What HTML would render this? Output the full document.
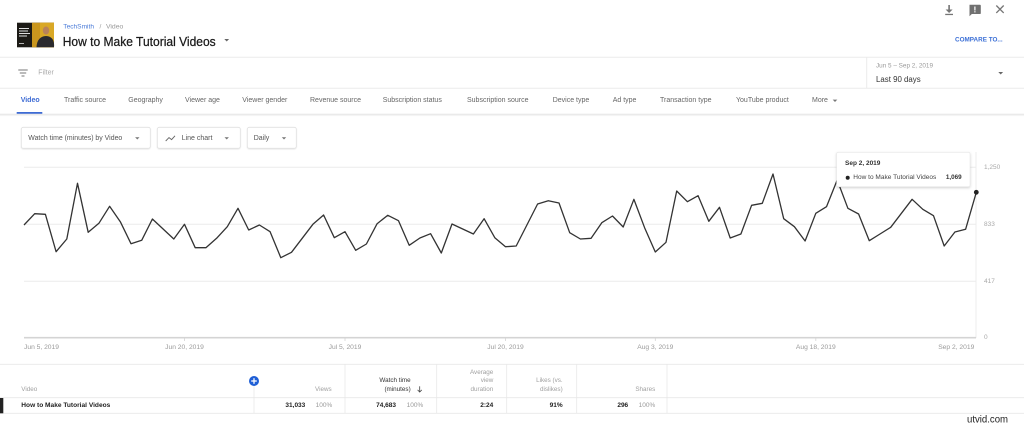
<!DOCTYPE html>
<html><head><meta charset="utf-8"><style>
html,body{margin:0;padding:0;background:#fff;}
svg{display:block;font-family:"Liberation Sans",Arial,sans-serif;}
</style></head><body>
<svg width="1024" height="428" viewBox="0 0 1024 428" xmlns="http://www.w3.org/2000/svg">
<defs>
<filter id="sh" x="-10%" y="-20%" width="120%" height="150%"><feDropShadow dx="0" dy="1" stdDeviation="1.2" flood-color="#000" flood-opacity="0.18"/></filter>
<filter id="sh2" x="-10%" y="-20%" width="120%" height="150%"><feDropShadow dx="0" dy="0.6" stdDeviation="0.6" flood-color="#000" flood-opacity="0.12"/></filter>
</defs>
<rect width="1024" height="428" fill="#fff"/>

<!-- top right icons -->
<g fill="#757575" stroke="none">
<rect x="948.3" y="5" width="1.6" height="5.5"/>
<polygon points="945.6,9.5 952.6,9.5 949.1,13"/>
<rect x="945.2" y="13.8" width="7.8" height="1.3"/>
<path d="M969.5,4.8 h10.5 a0.8,0.8 0 0 1 0.8,0.8 v7.6 a0.8,0.8 0 0 1 -0.8,0.8 h-8.2 l-2.3,2.3 z" fill="#707070"/>
<rect x="974.3" y="6.5" width="1.2" height="4" fill="#fff"/>
<rect x="974.3" y="11.2" width="1.2" height="1.2" fill="#fff"/>
</g>
<g stroke="#757575" stroke-width="1.3"><line x1="996.3" y1="5.5" x2="1003.7" y2="12.9"/><line x1="1003.7" y1="5.5" x2="996.3" y2="12.9"/></g>

<!-- thumbnail -->
<rect x="17" y="22.7" width="37" height="24.6" fill="#1c1a16"/>
<rect x="32" y="22.7" width="22" height="24.6" fill="#c9961e"/>
<rect x="40" y="22.7" width="14" height="24.6" fill="#d9a826"/>
<ellipse cx="46" cy="30.5" rx="3.2" ry="4" fill="#b9825a"/>
<path d="M36.5,47.3 Q37,36.5 46,36 Q55,36.5 54,47.3 z" fill="#2a2a2e"/>
<g fill="#ddd"><rect x="19" y="28" width="10" height="1"/><rect x="19" y="30.5" width="9" height="1"/><rect x="19" y="33" width="11" height="1"/><rect x="19" y="35.5" width="8" height="1"/><rect x="19" y="43" width="5" height="0.8"/></g>

<!-- breadcrumb + title -->
<text x="63.3" y="27" font-size="6.5" fill="#4a7bd8" dominant-baseline="central" textLength="30.7" lengthAdjust="spacingAndGlyphs">TechSmith</text>
<text x="99.5" y="27" font-size="6.5" fill="#999" dominant-baseline="central">/</text>
<text x="106" y="27" font-size="6.5" fill="#999" dominant-baseline="central" textLength="17.3" lengthAdjust="spacingAndGlyphs">Video</text>
<text x="62.7" y="46" font-size="13" fill="#1a1a1a" textLength="153" lengthAdjust="spacingAndGlyphs" stroke="#1a1a1a" stroke-width="0.25">How to Make Tutorial Videos</text>
<polygon points="224.3,39 229.1,39 226.7,41.5" fill="#666"/>
<text x="955" y="40" font-size="6.8" font-weight="bold" fill="#3b6fd6" dominant-baseline="central" textLength="47.7" lengthAdjust="spacingAndGlyphs">COMPARE TO...</text>

<!-- filter row -->
<line x1="0" y1="57.3" x2="1024" y2="57.3" stroke="#ebebeb" stroke-width="1"/>
<g stroke="#777" stroke-width="1"><line x1="18.3" y1="70" x2="27.7" y2="70"/><line x1="19.8" y1="73" x2="26.2" y2="73"/><line x1="21.5" y1="76" x2="24.5" y2="76"/></g>
<text x="38.3" y="73" font-size="7" fill="#aaa" dominant-baseline="central">Filter</text>
<line x1="866.7" y1="57.3" x2="866.7" y2="88.3" stroke="#ebebeb" stroke-width="1"/>
<text x="876" y="66.7" font-size="6" fill="#9a9a9a" dominant-baseline="central" textLength="57" lengthAdjust="spacingAndGlyphs">Jun 5 – Sep 2, 2019</text>
<text x="876" y="79.3" font-size="8" fill="#333" dominant-baseline="central" textLength="44.7" lengthAdjust="spacingAndGlyphs">Last 90 days</text>
<polygon points="998.3,72 1003.1,72 1000.7,74.5" fill="#666"/>
<line x1="0" y1="88.3" x2="1024" y2="88.3" stroke="#ebebeb" stroke-width="1"/>

<!-- tabs -->
<g font-size="7" fill="#666" dominant-baseline="central">
<text x="20.7" y="100.7" fill="#3d6bd4" font-weight="bold">Video</text>
<text x="64" y="100.7">Traffic source</text>
<text x="128.3" y="100.7">Geography</text>
<text x="185" y="100.7">Viewer age</text>
<text x="242.3" y="100.7">Viewer gender</text>
<text x="310" y="100.7">Revenue source</text>
<text x="382.7" y="100.7">Subscription status</text>
<text x="467" y="100.7">Subscription source</text>
<text x="552.7" y="100.7">Device type</text>
<text x="612.7" y="100.7">Ad type</text>
<text x="660" y="100.7">Transaction type</text>
<text x="736" y="100.7">YouTube product</text>
<text x="812" y="100.7">More</text>
</g>
<polygon points="832.7,99.6 837.3,99.6 835,102" fill="#777"/>
<rect x="16.7" y="112" width="25.6" height="2" fill="#3d6bd4"/>
<line x1="0" y1="114.3" x2="1024" y2="114.3" stroke="#e2e2e2" stroke-width="1"/>
<line x1="0" y1="115.5" x2="1024" y2="115.5" stroke="#f4f4f4" stroke-width="1.2"/>

<!-- dropdowns -->
<g filter="url(#sh2)">
<rect x="21.3" y="127.3" width="129" height="21" rx="2" fill="#fff" stroke="#e0e0e0" stroke-width="0.8"/>
<rect x="157.3" y="127.3" width="83" height="21" rx="2" fill="#fff" stroke="#e0e0e0" stroke-width="0.8"/>
<rect x="247.3" y="127.3" width="49" height="21" rx="2" fill="#fff" stroke="#e0e0e0" stroke-width="0.8"/>
</g>
<g font-size="7" fill="#555" dominant-baseline="central">
<text x="28.3" y="138.3" textLength="94" lengthAdjust="spacingAndGlyphs">Watch time (minutes) by Video</text>
<text x="181.7" y="138.3">Line chart</text>
<text x="253.7" y="138.3">Daily</text>
</g>
<polyline points="165.7,141 169,137.6 171.6,139.6 175,135.8" fill="none" stroke="#666" stroke-width="0.9"/>
<g fill="#777">
<polygon points="135.1,137.3 139.5,137.3 137.3,139.5"/>
<polygon points="224.5,137.3 228.9,137.3 226.7,139.5"/>
<polygon points="281.8,137.3 286.2,137.3 284,139.5"/>
</g>

<!-- chart grid -->
<g stroke="#ececec" stroke-width="1">
<line x1="24" y1="167.3" x2="976" y2="167.3"/>
<line x1="24" y1="224.3" x2="976" y2="224.3"/>
<line x1="24" y1="281.3" x2="976" y2="281.3"/>
<line x1="976" y1="152" x2="976" y2="338"/>
</g>
<line x1="24" y1="337.7" x2="976" y2="337.7" stroke="#d4d4d4" stroke-width="1.6"/>
<g stroke="#d4d4d4" stroke-width="0.8">
<line x1="184.5" y1="338" x2="184.5" y2="341"/><line x1="345" y1="338" x2="345" y2="341"/><line x1="505.5" y1="338" x2="505.5" y2="341"/><line x1="655.3" y1="338" x2="655.3" y2="341"/><line x1="815.8" y1="338" x2="815.8" y2="341"/>
</g>
<g font-size="6.5" fill="#a8a8a8" dominant-baseline="central">
<text x="984" y="167.7">1,250</text>
<text x="984" y="224.3">833</text>
<text x="984" y="281.3">417</text>
<text x="984" y="337.7">0</text>
</g>
<g font-size="6.7" fill="#9a9a9a" dominant-baseline="central">
<text x="24" y="347.5">Jun 5, 2019</text>
<text x="184.5" y="347.5" text-anchor="middle">Jun 20, 2019</text>
<text x="345" y="347.5" text-anchor="middle">Jul 5, 2019</text>
<text x="505.5" y="347.5" text-anchor="middle">Jul 20, 2019</text>
<text x="655.3" y="347.5" text-anchor="middle">Aug 3, 2019</text>
<text x="815.8" y="347.5" text-anchor="middle">Aug 18, 2019</text>
<text x="974.3" y="347.5" text-anchor="end">Sep 2, 2019</text>
</g>

<!-- series -->
<polyline fill="none" stroke="#333" stroke-width="1.3" stroke-linejoin="round" points="
24,225 34.7,213.7 45.4,214.3 56.1,251.7 66.8,239 77.5,183.3 88.2,232.3 98.9,223.3 109.6,206.3 120.3,221.7
131,243.7 141.7,240.3 152.4,219 163.1,229 173.8,239 184.5,224.3 195.2,247.7 205.9,247.7 216.6,238.3 227.3,226.7
238,208.3 248.7,230 259.4,225 270.1,231.7 280.8,257.7 291.5,252.3 302.2,238.3 312.9,224.3 323.6,215 334.3,237.7
345,231.7 355.7,250.3 366.4,244 377.1,223.7 387.8,215.3 398.5,220.7 409.2,245.3 419.9,238 430.6,233.7 441.3,253
452,224 462.7,229 473.4,234 484.1,218.7 494.8,237.7 505.5,246.7 516.2,246 526.9,225 537.6,204 548.3,200.7
559,203 569.7,232.7 580.4,239 591.1,238.3 601.8,222.7 612.5,216 623.2,227 633.9,199.3 644.6,227.7 655.3,252
666,242.3 676.7,191 687.4,201.7 698.1,195.7 708.8,221.3 719.5,207.3 730.2,238 740.9,234 751.6,205.3 762.3,203.3
773,174 783.7,218.7 794.4,226.7 805.1,241 815.8,213.3 826.5,206.7 837.2,180 847.9,208.3 858.6,214 869.3,240.7
880,234 890.7,227.3 901.4,213.3 912.1,199.3 922.8,209.3 933.5,215.7 944.2,246 954.9,232 965.6,229.3 976.3,192.3"/>
<circle cx="976.3" cy="192.3" r="2.4" fill="#222"/>

<!-- tooltip -->
<rect x="836.7" y="152.3" width="133.3" height="34.4" rx="1.5" fill="#fff" stroke="#e6e6e6" stroke-width="0.6" filter="url(#sh)"/>
<text x="845" y="163.3" font-size="6.5" font-weight="bold" fill="#333" dominant-baseline="central">Sep 2, 2019</text>
<circle cx="847.7" cy="177.7" r="2" fill="#222"/>
<text x="853.3" y="177.7" font-size="6.3" fill="#444" dominant-baseline="central" textLength="83" lengthAdjust="spacingAndGlyphs">How to Make Tutorial Videos</text>
<text x="961.7" y="177.7" font-size="6.3" font-weight="bold" fill="#333" dominant-baseline="central" text-anchor="end">1,069</text>

<!-- table -->
<g stroke="#e8e8e8" stroke-width="0.8">
<line x1="0" y1="364.3" x2="1024" y2="364.3"/>
<line x1="0" y1="397.7" x2="1024" y2="397.7"/>
<line x1="0" y1="413.3" x2="1024" y2="413.3"/>
<line x1="254" y1="386" x2="254" y2="413.3"/>
<line x1="345" y1="364.3" x2="345" y2="413.3"/>
<line x1="436.7" y1="364.3" x2="436.7" y2="413.3"/>
<line x1="506.7" y1="364.3" x2="506.7" y2="413.3"/>
<line x1="576.7" y1="364.3" x2="576.7" y2="413.3"/>
<line x1="667" y1="364.3" x2="667" y2="413.3"/>
</g>
<rect x="0" y="398" width="3.3" height="15.3" fill="#222"/>
<circle cx="254" cy="381" r="5" fill="#1f5fd6"/>
<g stroke="#fff" stroke-width="1.3"><line x1="251.2" y1="381" x2="256.8" y2="381"/><line x1="254" y1="378.2" x2="254" y2="383.8"/></g>
<g font-size="6.3" fill="#a0a0a0" dominant-baseline="central">
<text x="21.3" y="389.3">Video</text>
<text x="331.7" y="389.3" text-anchor="end">Views</text>
<text x="410.7" y="380.7" text-anchor="end" fill="#333">Watch time</text>
<text x="410.7" y="389.3" text-anchor="end" fill="#333">(minutes)</text>
<text x="493.3" y="372.3" text-anchor="end">Average</text>
<text x="493.3" y="380.7" text-anchor="end">view</text>
<text x="493.3" y="389.3" text-anchor="end">duration</text>
<text x="562.7" y="380.7" text-anchor="end">Likes (vs.</text>
<text x="562.7" y="389.3" text-anchor="end">dislikes)</text>
<text x="655.3" y="389.3" text-anchor="end">Shares</text>
</g>
<g stroke="#444" stroke-width="0.8" fill="none"><line x1="419.7" y1="386.3" x2="419.7" y2="392"/><polyline points="417.6,389.9 419.7,392 421.8,389.9"/></g>
<g font-size="6.5" dominant-baseline="central">
<text x="21.3" y="405.7" font-weight="bold" fill="#222" textLength="89" lengthAdjust="spacingAndGlyphs">How to Make Tutorial Videos</text>
<text x="305.3" y="405.7" font-weight="bold" fill="#222" text-anchor="end">31,033</text>
<text x="332.3" y="405.7" fill="#999" text-anchor="end">100%</text>
<text x="396" y="405.7" font-weight="bold" fill="#222" text-anchor="end">74,683</text>
<text x="423.3" y="405.7" fill="#999" text-anchor="end">100%</text>
<text x="493.3" y="405.7" font-weight="bold" fill="#222" text-anchor="end">2:24</text>
<text x="562.7" y="405.7" font-weight="bold" fill="#222" text-anchor="end">91%</text>
<text x="628.2" y="405.7" font-weight="bold" fill="#222" text-anchor="end">296</text>
<text x="655.3" y="405.7" fill="#999" text-anchor="end">100%</text>
</g>

<!-- watermark -->
<text x="967" y="420" font-size="10" fill="#222" dominant-baseline="central" textLength="41" lengthAdjust="spacingAndGlyphs">utvid.com</text>
</svg>
</body></html>
